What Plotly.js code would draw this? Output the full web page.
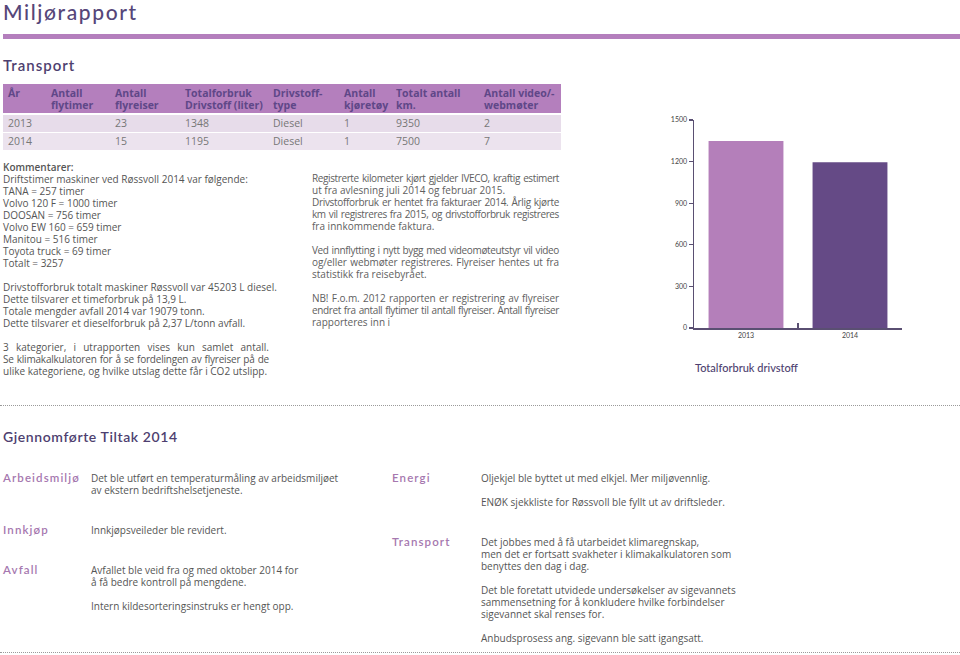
<!DOCTYPE html>
<html><head><meta charset="utf-8">
<script src="https://cdn.plot.ly/plotly-3.0.1.min.js"></script>
<style>
body{margin:0;width:960px;height:655px;position:relative;background:#fff;overflow:hidden;font-family:"Open Sans",sans-serif;}
.abs{position:absolute;white-space:nowrap;}
.h{font-family:Lato,sans-serif;color:#4e3f70;font-weight:600;}
.ln{position:absolute;height:12px;line-height:12px;font-size:10px;color:#555;white-space:nowrap;}
.ln span{display:inline-block;height:12px;line-height:12px;vertical-align:top;}
.lbl{position:absolute;font-family:Lato,sans-serif;font-size:11.5px;letter-spacing:1.1px;color:#a678af;font-weight:600;line-height:14px;}
.dot{position:absolute;left:0;width:960px;height:0;border-top:1px dotted #9a9a9a;}
</style></head>
<body>
<div class="abs h" style="left:3px;top:-1px;font-size:21px;letter-spacing:1.6px;color:#564679;font-weight:500">Miljørapport</div>
<div class="abs" style="left:3px;top:34px;width:957px;height:5px;background:#b47fbd"></div>
<div class="abs h" style="left:3px;top:56px;font-size:15px;letter-spacing:1px;">Transport</div>
<div id="tbl"></div>
<div id="txt"></div>
<div id="chart" class="abs" style="left:640px;top:100px;width:320px;height:290px"></div>
<div class="dot" style="top:405px"></div>
<div class="abs h" style="left:3px;top:428px;font-size:14px;letter-spacing:0.6px;">Gjennomførte Tiltak 2014</div>
<div class="dot" style="top:652px"></div>
<script>
// ---- data ----
const years = ['2013', '2014'];
const fuelLiters = [1348, 1195];
const yTickVals = [0, 300, 600, 900, 1200, 1500];
const yTickText = ['0', '300', '600', '900', '1200', '1500'];
const tableHeaders = ['År', 'Antall<br>flytimer', 'Antall<br>flyreiser', 'Totalforbruk<br>Drivstoff (liter)', 'Drivstoff-<br>type', 'Antall<br>kjøretøy', 'Totalt antall<br>km.', 'Antall video/-<br>webmøter'];
const row2013 = ['2013', '', '23', '1348', 'Diesel', '1', '9350', '2'];
const row2014 = ['2014', '', '15', '1195', 'Diesel', '1', '7500', '7'];

// ---- table ----
const colX = [8, 51, 115, 185, 273, 344, 396, 484];
const tbl = document.getElementById('tbl');
let html = '<div class="abs" style="left:3px;top:84px;width:558px;height:29px;background:#b47fbd"></div>';
html += '<div class="abs" style="left:3px;top:115px;width:558px;height:17px;background:#e7dcea"></div>';
html += '<div class="abs" style="left:3px;top:133px;width:558px;height:17px;background:#ece3ee"></div>';
tableHeaders.forEach((t, i) => {
  html += `<div class="abs" style="left:${colX[i]}px;top:87px;font-size:10.5px;line-height:12px;font-weight:700;color:#5f4788">${t}</div>`;
});
[row2013, row2014].forEach((r, k) => {
  r.forEach((t, i) => {
    html += `<div class="abs" style="left:${colX[i]}px;top:${117 + k * 18}px;font-size:10.5px;line-height:12px;color:#777">${t}</div>`;
  });
});
tbl.innerHTML = html;

// ---- text blocks ----
function block(x, firstCenter, width, lines, color) {
  let out = '';
  lines.forEach((l, i) => {
    if (!l) return;
    const o = typeof l === 'string' ? { t: l } : l;
    out += `<div class="ln${o.j ? ' j' : ''}" data-w="${width}" style="left:${x}px;top:${firstCenter - 6 + i * 12}px;${color ? 'color:' + color + ';' : ''}${o.b ? 'font-weight:600;' : ''}"><span>${o.t}</span></div>`;
  });
  return out;
}
let T = '';
T += block(3, 167, 266, [
  { t: 'Kommentarer:', b: true },
  'Driftstimer maskiner ved Røssvoll 2014 var følgende:',
  'TANA = 257 timer', 'Volvo 120 F = 1000 timer', 'DOOSAN = 756 timer',
  'Volvo EW 160 = 659 timer', 'Manitou = 516 timer', 'Toyota truck = 69 timer', 'Totalt = 3257', '',
  'Drivstofforbruk totalt maskiner Røssvoll var 45203 L diesel.',
  'Dette tilsvarer et timeforbruk på 13,9 L.',
  'Totale mengder avfall 2014 var 19079 tonn.',
  'Dette tilsvarer et dieselforbruk på 2,37 L/tonn avfall.', '',
  { t: '3 kategorier, i utrapporten vises kun samlet antall.', j: true },
  { t: 'Se klimakalkulatoren for å se fordelingen av flyreiser på de', j: true },
  'ulike kategoriene, og hvilke utslag dette får i CO2 utslipp.'
]);
T += block(312, 178, 247, [
  { t: 'Registrerte kilometer kjørt gjelder IVECO, kraftig estimert', j: true },
  'ut fra avlesning juli 2014 og februar 2015.',
  { t: 'Drivstofforbruk er hentet fra fakturaer 2014. Årlig kjørte', j: true },
  { t: 'km vil registreres fra 2015, og drivstofforbruk registreres', j: true },
  'fra innkommende faktura.', '',
  { t: 'Ved innflytting i nytt bygg med videomøteutstyr vil video', j: true },
  { t: 'og/eller webmøter registreres. Flyreiser hentes ut fra', j: true },
  'statistikk fra reisebyrået.', '',
  { t: 'NB! F.o.m. 2012 rapporten er registrering av flyreiser', j: true },
  { t: 'endret fra antall flytimer til antall flyreiser. Antall flyreiser', j: true },
  'rapporteres inn i'
], '#606060');
// bottom section
T += `<div class="lbl" style="left:3px;top:471px">Arbeidsmiljø</div>`;
T += block(91, 478, 250, ['Det ble utført en temperaturmåling av arbeidsmiljøet', 'av ekstern bedriftshelsetjeneste.']);
T += `<div class="lbl" style="left:3px;top:523px">Innkjøp</div>`;
T += block(91, 530, 250, ['Innkjøpsveileder ble revidert.']);
T += `<div class="lbl" style="left:3px;top:563px">Avfall</div>`;
T += block(91, 570, 250, ['Avfallet ble veid fra og med oktober 2014 for', 'å få bedre kontroll på mengdene.', '', 'Intern kildesorteringsinstruks er hengt opp.']);
T += `<div class="lbl" style="left:392px;top:471px">Energi</div>`;
T += block(481, 478, 250, ['Oljekjel ble byttet ut med elkjel. Mer miljøvennlig.', '', 'ENØK sjekkliste for Røssvoll ble fyllt ut av driftsleder.']);
T += `<div class="lbl" style="left:392px;top:535px">Transport</div>`;
T += block(481, 542, 250, ['Det jobbes med å få utarbeidet klimaregnskap,', 'men det er fortsatt svakheter i klimakalkulatoren som', 'benyttes den dag i dag.', '',
  'Det ble foretatt utvidede undersøkelser av sigevannets', 'sammensetning for å konkludere hvilke forbindelser', 'sigevannet skal renses for.', '',
  'Anbudsprosess ang. sigevann ble satt igangsatt.']);
document.getElementById('txt').innerHTML = T;
document.querySelectorAll('.j').forEach(d => {
  const s = d.querySelector('span');
  const W = +d.dataset.w;
  let w = s.getBoundingClientRect().width;
  const txt = s.textContent;
  const n = (txt.match(/ /g) || []).length;
  if (w > W - 6) {
    const ls = (W - 6 - w) / txt.length;
    s.style.letterSpacing = ls + 'px';
    w = s.getBoundingClientRect().width;
  }
  if (n) s.style.wordSpacing = ((W - w) / n) + 'px';
});

// ---- chart ----
Plotly.newPlot('chart', [{
  type: 'bar', x: years, y: fuelLiters,
  marker: { color: ['#b47fba', '#654a86'] },
  hoverinfo: 'none'
}], {
  width: 320, height: 290,
  margin: { l: 54, r: 58, t: 20, b: 62 },
  paper_bgcolor: '#fff', plot_bgcolor: '#fff',
  bargap: 0.28, showlegend: false,
  font: { family: 'Lato, sans-serif', color: '#555' },
  xaxis: {
    type: 'category', range: [-0.5, 1.5], showline: true, linecolor: '#5a4f72', linewidth: 1.5,
    ticks: 'inside', tickson: 'boundaries', ticklen: 5, tickcolor: '#5a4f72', tickwidth: 1.2,
    tickfont: { size: 7, color: '#444' }, showgrid: false, zeroline: false, fixedrange: true
  },
  yaxis: {
    range: [0, 1500], tickvals: yTickVals, ticktext: yTickText, showline: true, linecolor: '#5a4f72', linewidth: 1.5,
    ticks: 'outside', ticklen: 4, tickcolor: '#5a4f72', tickwidth: 1.2,
    tickfont: { size: 7, color: '#444' }, showgrid: false, zeroline: false, fixedrange: true
  },
  annotations: [{
    text: 'Totalforbruk drivstoff', xref: 'paper', yref: 'paper', x: -0.005, y: -0.192,
    xanchor: 'left', yanchor: 'middle', showarrow: false,
    font: { family: 'Lato, sans-serif', size: 11, color: '#4e3f70', weight: 500 }
  }]
}, { staticPlot: true, displayModeBar: false });
</script>
</body></html>
